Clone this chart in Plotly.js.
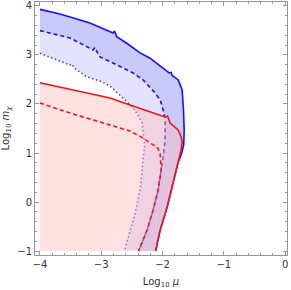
<!DOCTYPE html>
<html><head><meta charset="utf-8">
<script src="https://cdn.plot.ly/plotly-3.0.1.min.js"></script>
<style>html,body{margin:0;padding:0;background:#fff}</style>
</head><body>
<div id="chart" style="width:291px;height:290px"></div>
<script>
// Blue solid boundary
const blueSolidX = [-4, -3.673, -3.183, -2.807, -2.783, -2.747, -2.583, -2.366, -2.203, -2.039, -1.892, -1.859, -1.843, -1.745, -1.680, -1.658, -1.647, -1.655, -1.696, -1.745, -1.827, -1.925, -2.039, -2.113];
const blueSolidY = [3.93, 3.837, 3.653, 3.449, 3.490, 3.373, 3.239, 3.041, 2.933, 2.776, 2.633, 2.643, 2.582, 2.490, 2.286, 1.878, 1.469, 1.163, 0.959, 0.816, 0.388, -0.102, -0.571, -1.0];
// Blue dashed
const blueDashX = [-4, -3.510, -3.134, -3.101, -3.069, -3.020, -2.742, -2.480, -2.317, -2.203, -2.121, -2.039, -1.990, -1.958, -1.958, -1.990, -2.023, -2.072, -2.154, -2.252, -2.391];
const blueDashY = [3.496, 3.347, 3.102, 3.153, 3.061, 2.959, 2.796, 2.633, 2.490, 2.347, 2.224, 2.082, 1.878, 1.673, 1.265, 0.918, 0.653, 0.245, -0.163, -0.571, -1.0];
// Blue dotted
const blueDotX = [-4, -3.510, -3.477, -3.444, -3.232, -3.020, -2.856, -2.693, -2.578, -2.480, -2.399, -2.333, -2.309, -2.292, -2.317, -2.366, -2.448, -2.529, -2.615];
const blueDotY = [3.035, 2.796, 2.816, 2.735, 2.551, 2.469, 2.367, 2.184, 2.041, 1.918, 1.776, 1.612, 1.367, 1.163, 0.857, 0.245, -0.224, -0.571, -0.97];
// Red solid
const redSolidX = [-4, -3.673, -3.183, -2.856, -2.529, -2.203, -1.958, -1.917, -1.876, -1.745, -1.696, -1.680, -1.696, -1.745, -1.827, -1.925, -2.039, -2.113];
const redSolidY = [2.435, 2.347, 2.204, 2.122, 1.980, 1.837, 1.735, 1.755, 1.612, 1.469, 1.327, 1.224, 1.061, 0.816, 0.388, -0.102, -0.571, -1.0];
// Red dashed
const redDashX = [-4, -3.510, -3.020, -2.529, -2.317, -2.203, -2.088, -2.039, -2.023, -2.072, -2.154, -2.252, -2.391];
const redDashY = [2.020, 1.816, 1.633, 1.449, 1.306, 1.204, 1.122, 1.0, 0.653, 0.245, -0.163, -0.571, -1.0];

const xTicks = [-4, -3, -2, -1, 0];
const xTickText = ['\u22124', '\u22123', '\u22122', '\u22121', '0'];
const yTicks = [-1, 0, 1, 2, 3, 4];
const yTickText = ['\u22121', '0', '1', '2', '3', '4'];

const rev = a => a.slice().reverse();
const traces = [];
// dark blue fill (solid -> dashed)
traces.push({x: blueSolidX.concat(rev(blueDashX)), y: blueSolidY.concat(rev(blueDashY)), mode:'lines', fill:'toself', fillcolor:'rgba(0,0,240,0.21)', line:{width:0}, hoverinfo:'skip'});
// light blue fill (dashed -> dotted)
traces.push({x: blueDashX.concat(rev(blueDotX)), y: blueDashY.concat(rev(blueDotY)), mode:'lines', fill:'toself', fillcolor:'rgba(0,0,255,0.11)', line:{width:0}, hoverinfo:'skip'});
// blue lines
traces.push({x: blueSolidX, y: blueSolidY, mode:'lines', line:{color:'rgb(20,20,245)', width:1.6}});
traces.push({x: blueDashX, y: blueDashY, mode:'lines', line:{color:'rgb(20,20,245)', width:1.6, dash:'4px,3px'}});
traces.push({x: blueDotX, y: blueDotY, mode:'lines', line:{color:'rgb(60,60,245)', width:1.6, dash:'1.5px,2.5px'}});
// pink fill
traces.push({x: [-4].concat(redSolidX), y: [-1].concat(redSolidY), mode:'lines', fill:'toself', fillcolor:'rgba(255,188,188,0.45)', line:{width:0}, hoverinfo:'skip'});
// red lines
traces.push({x: redSolidX, y: redSolidY, mode:'lines', line:{color:'rgb(240,20,20)', width:1.6}});
traces.push({x: redDashX, y: redDashY, mode:'lines', line:{color:'rgb(240,20,20)', width:1.6, dash:'4px,3px'}});

const axisCommon = {
  showgrid:false, zeroline:false, showline:true, mirror:'allticks',
  linecolor:'rgb(150,150,150)', linewidth:1,
  ticks:'inside', ticklen:4, tickwidth:1, tickcolor:'rgb(150,150,150)',
  tickfont:{family:'DejaVu Sans, sans-serif', size:10, color:'rgb(50,50,50)'},
  minor:{dtick:0.2, ticks:'inside', ticklen:2, tickcolor:'rgb(150,150,150)', tickwidth:1, showgrid:false}
};
const layout = {
  width:291, height:290,
  margin:{l:35, r:4, t:2, b:35},
  paper_bgcolor:'#fff', plot_bgcolor:'#fff',
  showlegend:false,
  xaxis: Object.assign({}, axisCommon, {range:[-4.08, 0.03], tickvals:xTicks, ticktext:xTickText,
    title:{text:'Log<sub>10</sub> <i>\u03bc</i>', font:{family:'DejaVu Sans, sans-serif', size:10, color:'rgb(50,50,50)'}, standoff:8}}),
  yaxis: Object.assign({}, axisCommon, {range:[-1.08, 4.08], tickvals:yTicks, ticktext:yTickText,
    title:{text:'Log<sub>10</sub> <i>m</i><sub><i>\u03c7</i></sub>', font:{family:'DejaVu Sans, sans-serif', size:10, color:'rgb(50,50,50)'}, standoff:6}})
};
Plotly.newPlot('chart', traces, layout, {displayModeBar:false, staticPlot:true});
</script>
</body></html>
